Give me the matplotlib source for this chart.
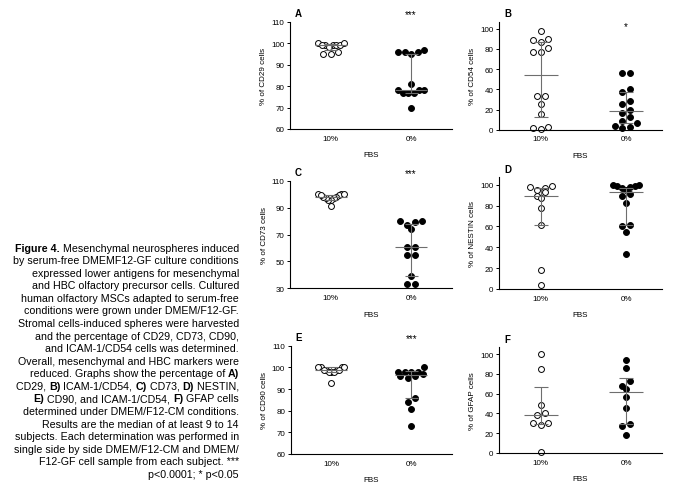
"""Figure 4 - scatter dot plots, median with interquartile range"""
import matplotlib
matplotlib.use("Agg")
from matplotlib import pyplot as plt
import numpy as np

plt.rcParams["font.family"] = ["Liberation Sans", "DejaVu Sans"]

W, H = 676, 489
GROUPS = ["10%", "0%"]

# A) CD29
cd29_10 = [100, 99, 99, 99, 99, 99, 100, 98, 96, 95, 95]
cd29_0 = [96, 96, 95, 96, 97, 81, 78, 78, 77, 77, 77, 78, 70]
cd29_med, cd29_low, cd29_high = [99, 78], [97, 77], [99.5, 95]

# B) ICAM-1/CD54
cd54_10 = [98, 89, 87, 90, 81, 77, 77, 33, 33, 25, 16, 3, 1, 2]
cd54_0 = [56, 56, 40, 37, 28, 25, 20, 17, 13, 9, 7, 4, 3, 2]
cd54_med, cd54_low, cd54_high = [54.5, 19], [13, 6.5], [87, 37.5]

# C) CD73
cd73_10 = [100, 100, 99, 98, 97, 96, 96, 97, 98, 99, 100, 91]
cd73_0 = [80, 80, 79, 77, 74, 61, 61, 55, 55, 39, 33, 33]
cd73_med, cd73_low, cd73_high = [98, 61], [96, 39], [99.5, 78]

# D) NESTIN
nes_10 = [99, 97, 95, 98, 93, 89, 87, 78, 61, 18, 4]
nes_0 = [99, 100, 98, 95, 99, 97, 100, 91, 89, 83, 61, 60, 55, 34]
nes_med, nes_low, nes_high = [89, 93.5], [61, 61], [97, 97]

# E) CD90
cd90_10 = [100, 100, 99, 99, 98, 98, 98, 99, 99, 100, 100, 93]
cd90_0 = [98, 97, 98, 98, 98, 100, 96, 95, 96, 86, 84, 81, 73]
cd90_med, cd90_low, cd90_high = [99, 96.7], [98, 85.7], [100, 98.5]

# F) GFAP
gfap_10 = [100, 85, 48, 38, 40, 30, 28, 30, 1]
gfap_0 = [94, 86, 73, 65, 68, 57, 45, 29, 27, 18]
gfap_med, gfap_low, gfap_high = [38, 61.5], [29, 29], [66.5, 76]

PANELS = [
    # letter, ylabel, v10, v0, med, low, high, ylim, yticks, star, box (l, r, t, b) px
    ("A", "% of CD29 cells", cd29_10, cd29_0, cd29_med, cd29_low, cd29_high,
     (60, 110), [60, 70, 80, 90, 100, 110], "***", (290, 452, 22.7, 130)),
    ("B", "% of CD54 cells", cd54_10, cd54_0, cd54_med, cd54_low, cd54_high,
     (0, 107), [0, 20, 40, 60, 80, 100], "*", (499, 662, 22.7, 130.7)),
    ("C", "% of CD73 cells", cd73_10, cd73_0, cd73_med, cd73_low, cd73_high,
     (30, 110), [30, 50, 70, 90, 110], "***", (290, 452, 181.7, 289.3)),
    ("D", "% of NESTIN cells", nes_10, nes_0, nes_med, nes_low, nes_high,
     (0, 107.5), [0, 20, 40, 60, 80, 100], "", (499, 662, 178, 290)),
    ("E", "% of CD90 cells", cd90_10, cd90_0, cd90_med, cd90_low, cd90_high,
     (60, 110), [60, 70, 80, 90, 100, 110], "***", (290.7, 452, 346.7, 455)),
    ("F", "% of GFAP cells", gfap_10, gfap_0, gfap_med, gfap_low, gfap_high,
     (0, 107.4), [0, 20, 40, 60, 80, 100], "", (499, 662, 347.7, 454)),
]

CAPTION = [
    [("Figure 4.", True), (" Mesenchymal neurospheres induced", False)],
    [("by serum-free DMEMF12-GF culture conditions", False)],
    [("expressed lower antigens for mesenchymal", False)],
    [("and HBC olfactory precursor cells. Cultured", False)],
    [("human olfactory MSCs adapted to serum-free", False)],
    [("conditions were grown under DMEM/F12-GF.", False)],
    [("Stromal cells-induced spheres were harvested", False)],
    [("and the percentage of CD29, CD73, CD90,", False)],
    [("and ICAM-1/CD54 cells was determined.", False)],
    [("Overall, mesenchymal and HBC markers were", False)],
    [("reduced. Graphs show the percentage of ", False), ("A)", True)],
    [("CD29, ", False), ("B)", True), (" ICAM-1/CD54, ", False), ("C)", True),
     (" CD73, ", False), ("D)", True), (" NESTIN,", False)],
    [("E)", True), (" CD90, and ICAM-1/CD54, ", False), ("F)", True), (" GFAP cells", False)],
    [("determined under DMEM/F12-CM conditions.", False)],
    [("Results are the median of at least 9 to 14", False)],
    [("subjects. Each determination was performed in", False)],
    [("single side by side DMEM/F12-CM and DMEM/", False)],
    [("F12-GF cell sample from each subject. ***", False)],
    [("p<0.0001; * p<0.05", False)],
]

LINE = "#6e6e6e"
FS = 5.8


def spread_x(ax, xc, vals, row_h=5.5, max_step=7.5, max_width=26.0):
    """GraphPad-like dot layout: points close in value share a row (pixels)"""
    vals = np.asarray(vals, dtype=float)
    pix = ax.transData.transform(np.column_stack([np.full(len(vals), xc), vals]))
    order = np.argsort(-vals, kind="stable")
    rows, cur = [], [order[0]]
    for i in order[1:]:
        if pix[cur[0], 1] - pix[i, 1] > row_h:
            rows.append(cur)
            cur = [i]
        else:
            cur.append(i)
    rows.append(cur)
    out = pix[:, 0].copy()
    for row in rows:
        n = len(row)
        if n == 1:
            continue
        step = min(max_step, max_width / (n - 1))
        slots = sorted(((k - (n - 1) / 2) * step for k in range(n)), key=abs)
        # lowest values in the middle, highest at the ends
        for i, s in zip(sorted(row, key=lambda k: vals[k]), slots):
            out[i] = pix[i, 0] + s
    return ax.transData.inverted().transform(np.column_stack([out, pix[:, 1]]))[:, 0]


fig = plt.figure(figsize=(W / 100, H / 100), dpi=100)

for letter, ylab, v10, v0, med, low, high, ylim, yticks, star, box in PANELS:
    l, r, t, b = box
    ax = fig.add_axes([l / W, 1 - b / H, (r - l) / W, (b - t) / H])
    right = l > 400
    ax.set_xlim((-0.49, 1.42) if right else (-0.51, 1.51))
    ax.set_ylim(*ylim)
    for s in ("top", "right"):
        ax.spines[s].set_visible(False)
    for s in ("left", "bottom"):
        ax.spines[s].set_linewidth(0.8)
    ax.set_yticks(yticks)
    ax.set_xticks([0, 1])
    ax.set_xticklabels(GROUPS)
    ax.tick_params(labelsize=FS, length=2.5, width=0.7, pad=1.5)
    ax.tick_params(axis="x", length=0, pad=4)
    ax.set_ylabel(ylab, fontsize=FS, labelpad=3)
    ax.set_xlabel("FBS", fontsize=FS, labelpad=7)

    x10 = spread_x(ax, 0, v10)
    x0 = spread_x(ax, 1, v0)
    ax.scatter(x10, v10, s=18, facecolor="white", edgecolor="black",
               linewidth=0.7, zorder=2, clip_on=False)
    ax.scatter(x0, v0, s=18, facecolor="black", edgecolor="black",
               linewidth=0.7, zorder=2, clip_on=False)

    for j in range(2):
        ax.hlines(med[j], j - 0.2, j + 0.2, color=LINE, lw=0.8, zorder=3)
        ax.vlines(j, low[j], high[j], color=LINE, lw=0.8, zorder=3)
        ax.hlines([low[j], high[j]], j - 0.08, j + 0.08, color=LINE, lw=0.8, zorder=3)

    ax.text(0.03, 1.03, letter, transform=ax.transAxes, fontsize=7,
            fontweight="bold", ha="left", va="bottom")
    if star == "***":
        ax.text(1, 1.02, star, transform=ax.get_xaxis_transform(), fontsize=7,
                ha="center", va="bottom")
    elif star:
        ax.text(1, 0.96, star, transform=ax.get_xaxis_transform(), fontsize=7,
                ha="center", va="center")

cap = fig.add_axes([0, 0, 1, 1])
cap.axis("off")
cap.set_xlim(0, W)
cap.set_ylim(H, 0)
for i, parts in enumerate(CAPTION):
    y = 251.5 + i * 12.58
    prev = None
    for text, bold in reversed(parts):
        weight = "bold" if bold else "normal"
        if prev is None:
            prev = cap.text(239, y, text, fontsize=7.7, fontweight=weight,
                            ha="right", va="baseline")
        else:
            prev = cap.annotate(text, xy=(0, 0), xycoords=prev, fontsize=7.7,
                                fontweight=weight, ha="right", va="bottom")

fig.savefig("out.png", dpi=100)
